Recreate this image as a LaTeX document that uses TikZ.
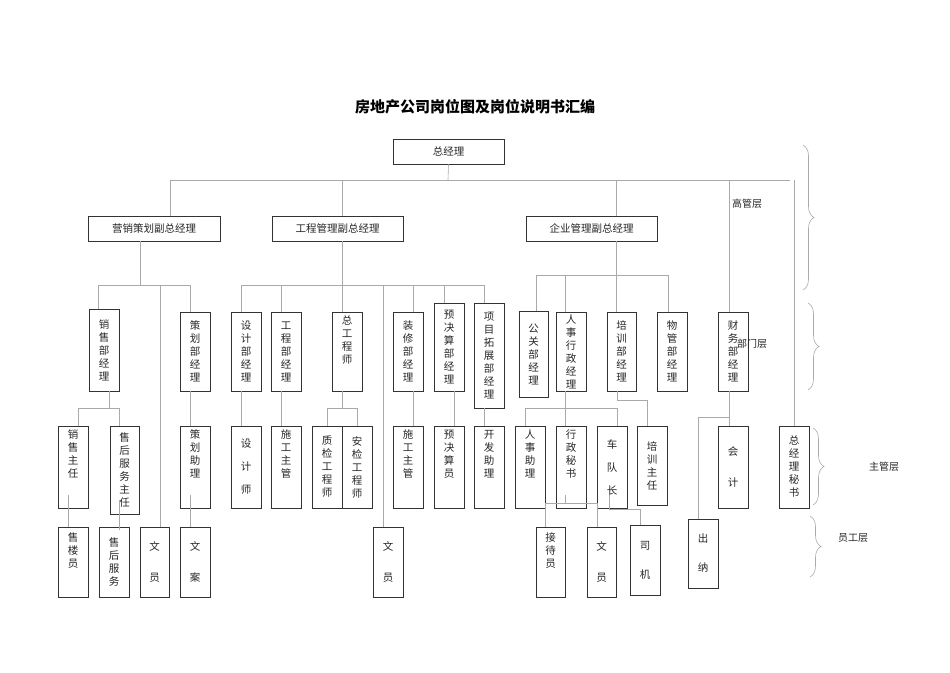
\documentclass[tikz,border=0pt]{standalone}
\usepackage{fontspec}
\setmainfont{Noto Sans CJK SC}
\usetikzlibrary{decorations.pathreplacing}
\definecolor{bx}{HTML}{333333}
\definecolor{ln}{HTML}{AAAAAA}
\tikzset{
 box/.style={draw=bx,line width=0.9pt,inner sep=0pt,align=center,font=\fontsize{10.5}{13}\selectfont,text=black!85},
 conn/.style={draw=ln,line width=0.6pt},
 brc/.style={draw=ln,line width=0.6pt,decorate,decoration={brace,amplitude=11pt}},
 lay/.style={font=\fontsize{10}{12}\selectfont,text=black!85}
}
\newcommand{\bx}[6]{\node[box,minimum width={(#4-#2)*1pt},minimum height={(#5-#3)*1pt}] (#1) at ({(#2+#4)/2},{(#3+#5)/2}) {#6};}
\begin{document}
\begin{tikzpicture}[x=1pt,y=-1pt]
\useasboundingbox (0,0) rectangle (950,672);
\node[font=\fontsize{15}{18}\selectfont\bfseries] (title) at (475,107) {房地产公司岗位图及岗位说明书汇编};
% level 1-2
\bx{gm}{393}{139}{504}{164}{总经理}
\bx{yx}{88}{216}{220}{241}{营销策划副总经理}
\bx{gc}{272}{216}{403}{241}{工程管理副总经理}
\bx{qy}{526}{216}{657}{241}{企业管理副总经理}
% row 2
\bx{xsb}{89}{309}{119}{391}{销\\售\\部\\经\\理}
\bx{chb}{180}{312}{210}{391}{策\\划\\部\\经\\理}
\bx{sjb}{231}{312}{261}{391}{设\\计\\部\\经\\理}
\bx{gcb}{271}{312}{301}{391}{工\\程\\部\\经\\理}
\node[box,minimum width=30pt,minimum height=79pt] (zgs) at (347,351.5) {};
\node[box,draw=none,anchor=north] (zgst) at ([yshift=-4pt]zgs.north) {总\\工\\程\\师};
\bx{zxb}{393}{312}{423}{391}{装\\修\\部\\经\\理}
\bx{yjb}{434}{303}{464}{391}{预\\决\\算\\部\\经\\理}
\bx{xmb}{474}{303}{504}{408}{项\\目\\拓\\展\\部\\经\\理}
\bx{ggb}{519}{311}{548}{397}{公\\关\\部\\经\\理}
\bx{rsx}{556}{312}{586}{391}{人\\事\\行\\政\\经\\理}
\bx{pxb}{607}{312}{636}{391}{培\\训\\部\\经\\理}
\bx{wgb}{657}{312}{687}{391}{物\\管\\部\\经\\理}
\bx{cwb}{718}{312}{748}{391}{财\\务\\部\\经\\理}
% row 3
\bx{xszr}{58}{426}{88}{508}{销\\售\\主\\任\\[14pt]}
\bx{shzr}{110}{426}{139}{514}{售\\后\\服\\务\\主\\任}
\bx{chzl}{180}{426}{210}{508}{策\\划\\助\\理\\[14pt]}
\bx{sjs}{231}{426}{261}{508}{设\\[10pt]计\\[10pt]师}
\bx{sgz1}{271}{426}{301}{508}{施\\工\\主\\管\\[14pt]}
\bx{zjg}{312}{426}{342}{508}{质\\检\\工\\程\\师}
\bx{ajg}{342}{426}{372}{508}{安\\检\\工\\程\\师}
\bx{sgz2}{393}{426}{423}{508}{施\\工\\主\\管\\[14pt]}
\bx{yjy}{434}{426}{464}{508}{预\\决\\算\\员\\[14pt]}
\bx{kfzl}{474}{426}{504}{508}{开\\发\\助\\理\\[14pt]}
\bx{rszl}{515}{426}{545}{508}{人\\事\\助\\理\\[14pt]}
\bx{xzms}{556}{426}{586}{508}{行\\政\\秘\\书\\[14pt]}
\bx{cdz}{597}{426}{627}{508}{车\\[10pt]队\\[10pt]长}
\bx{pxzr}{637}{426}{667}{505}{培\\训\\主\\任}
\bx{kj}{718}{426}{748}{508}{会\\[18pt]计}
\bx{zjlms}{779}{426}{809}{508}{总\\经\\理\\秘\\书}
% row 4
\bx{sly}{58}{527}{88}{597}{售\\楼\\员\\[10pt]}
\bx{shfw}{99}{527}{129}{597}{售\\后\\服\\务}
\bx{wy1}{140}{527}{169}{597}{文\\[18pt]员}
\bx{wa}{180}{527}{210}{597}{文\\[18pt]案}
\bx{wy2}{373}{527}{403}{597}{文\\[18pt]员}
\bx{jdy}{536}{527}{565}{597}{接\\待\\员\\[10pt]}
\bx{wy3}{587}{527}{616}{597}{文\\[18pt]员}
\bx{sj}{630}{525}{660}{595}{司\\[16pt]机}
\bx{cn}{688}{519}{718}{588}{出\\[16pt]纳}
% top connectors
\draw[conn] (gm.south) -- (448,180);
\draw[conn] (170,180) -- (790,180);
\draw[conn] (170,180) -- (yx.north -| 170,0);
\draw[conn] (342,180) -- (gc.north -| 342,0);
\draw[conn] (616,180) -- (qy.north -| 616,0);
\draw[conn] (729,180) -- (cwb.north -| 729,0);
\draw[conn] (794,180) -- (zjlms.north -| 794,0);
% marketing
\draw[conn] (yx.south -| 140,0) -- (140,285);
\draw[conn] (98,285) -- (190,285);
\draw[conn] (98,285) -- (xsb.north -| 98,0);
\draw[conn] (190,285) -- (chb.north -| 190,0);
\draw[conn] (160,285) -- (wy1.north -| 160,0);
\draw[conn] (xsb.south -| 109,0) -- (109,408);
\draw[conn] (78,408) -- (119,408);
\draw[conn] (78,408) -- (xszr.north -| 78,0);
\draw[conn] (119,408) -- (shzr.north -| 119,0);
\draw[conn] (190,391) -- (chzl.north -| 190,0);
\draw[conn] (68,495) -- (sly.north -| 68,0);
\draw[conn] (119,500) -- (119,530);
\draw[conn] (190,495) -- (wa.north -| 190,0);
% engineering
\draw[conn] (gc.south -| 342,0) -- (342,285);
\draw[conn] (241,285) -- (484,285);
\draw[conn] (241,285) -- (sjb.north -| 241,0);
\draw[conn] (281,285) -- (gcb.north -| 281,0);
\draw[conn] (342,285) -- (zgs.north -| 342,0);
\draw[conn] (383,285) -- (wy2.north -| 383,0);
\draw[conn] (413,285) -- (zxb.north -| 413,0);
\draw[conn] (444,285) -- (yjb.north -| 444,0);
\draw[conn] (484,285) -- (xmb.north -| 484,0);
\draw[conn] (sjb.south -| 241,0) -- (sjs.north -| 241,0);
\draw[conn] (gcb.south -| 281,0) -- (sgz1.north -| 281,0);
\draw[conn] (zgs.south -| 342,0) -- (342,408);
\draw[conn] (327,408) -- (357,408);
\draw[conn] (327,408) -- (zjg.north -| 327,0);
\draw[conn] (357,408) -- (ajg.north -| 357,0);
\draw[conn] (zxb.south -| 413,0) -- (sgz2.north -| 413,0);
\draw[conn] (yjb.south -| 454,0) -- (yjy.north -| 454,0);
\draw[conn] (xmb.south -| 484,0) -- (kfzl.north -| 484,0);
% enterprise
\draw[conn] (qy.south -| 616,0) -- (616,275);
\draw[conn] (536,275) -- (668,275);
\draw[conn] (536,275) -- (ggb.north -| 536,0);
\draw[conn] (565,275) -- (rsx.north -| 565,0);
\draw[conn] (616,275) -- (pxb.north -| 616,0);
\draw[conn] (668,275) -- (wgb.north -| 668,0);
\draw[conn] (rsx.south -| 565,0) -- (xzms.north -| 565,0);
\draw[conn] (525,408) -- (617,408);
\draw[conn] (525,408) -- (rszl.north -| 525,0);
\draw[conn] (617,408) -- (cdz.north -| 617,0);
\draw[conn] (pxb.south -| 617,0) -- (617,400) -- (647,400) -- (pxzr.north -| 647,0);
\draw[conn] (cwb.south -| 729,0) -- (kj.north -| 729,0);
\draw[conn] (729,417) -- (698,417) -- (cn.north -| 698,0);
\draw[conn] (565,495) -- (565,503);
\draw[conn] (545,503) -- (597,503);
\draw[conn] (545,503) -- (jdy.north -| 545,0);
\draw[conn] (597,503) -- (wy3.north -| 597,0);
\draw[conn] (609,495) -- (609,509) -- (640,509) -- (sj.north -| 640,0);
% braces
\draw[brc] (803,145) -- (803,290);
\draw[brc] (808,303) -- (808,390);
\draw[brc] (813,428) -- (813,505);
\draw[brc] (810,516) -- (810,577);
\node[lay] (l1) at (747,204) {高管层};
\node[lay] (l2) at (752,344) {部门层};
\node[lay] (l3) at (884,467) {主管层};
\node[lay] (l4) at (853,538) {员工层};
\end{tikzpicture}
\end{document}
